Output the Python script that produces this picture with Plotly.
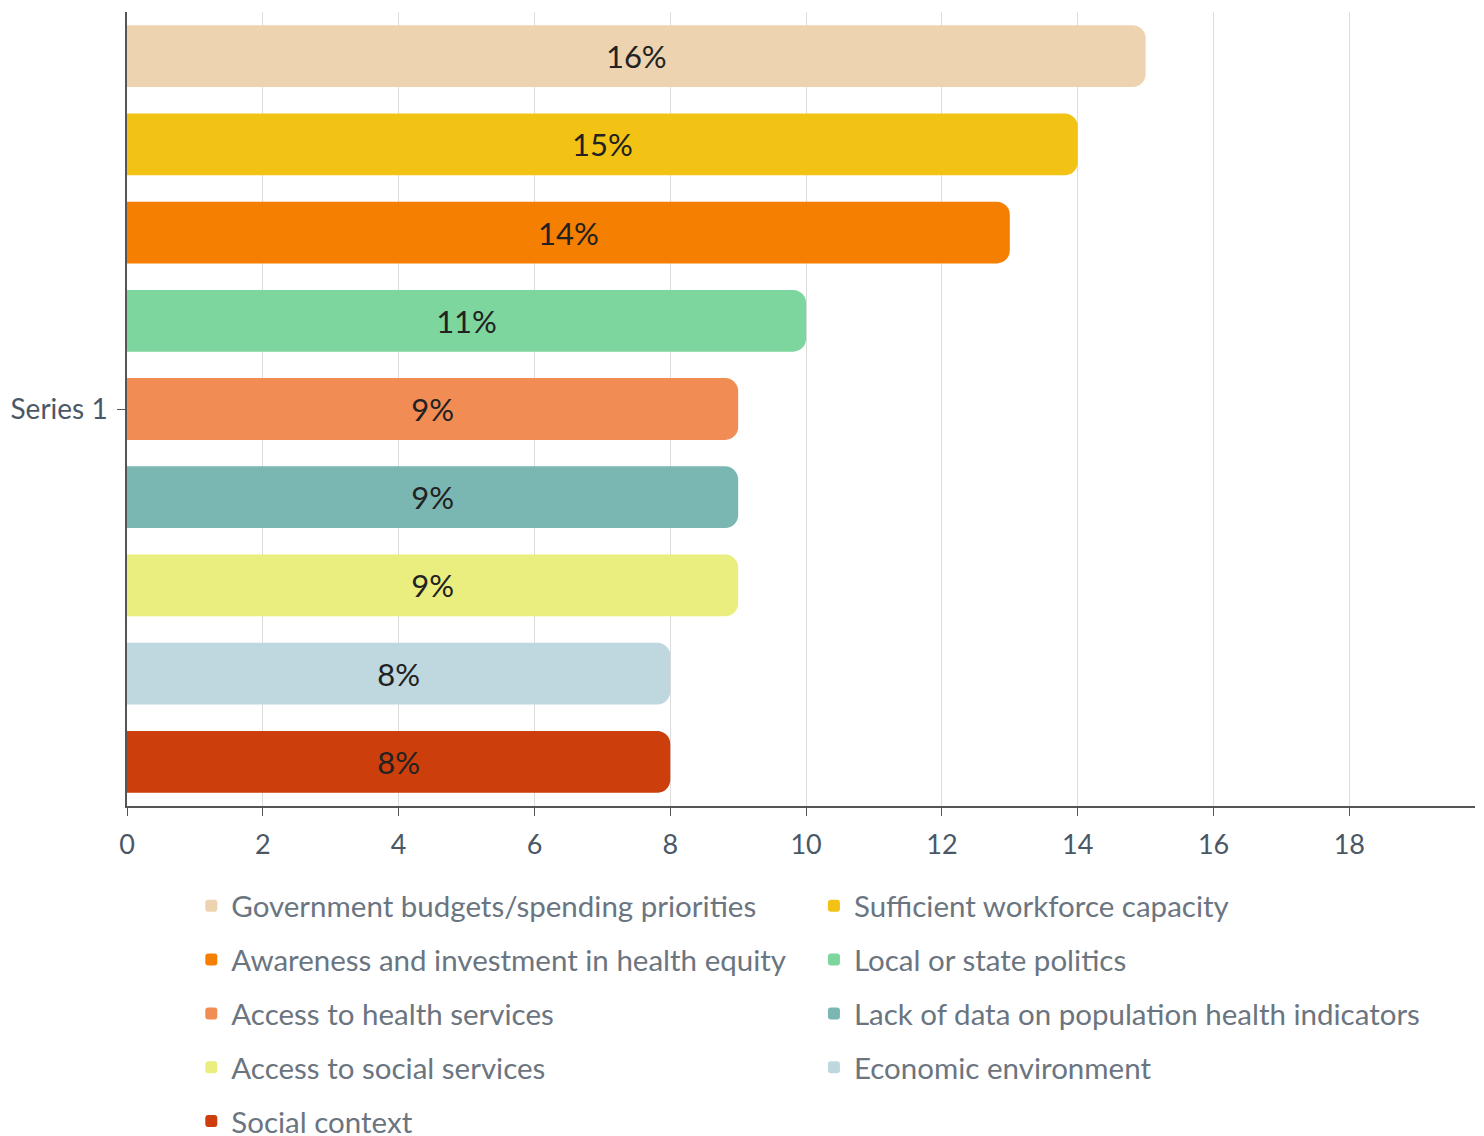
import plotly.graph_objects as go

categories = ["Series 1"]
series_names = [
    "Government budgets/spending priorities",
    "Sufficient workforce capacity",
    "Awareness and investment in health equity",
    "Local or state politics",
    "Access to health services",
    "Lack of data on population health indicators",
    "Access to social services",
    "Economic environment",
    "Social context",
]
values = [15, 14, 13, 10, 9, 9, 9, 8, 8]
labels = ["16%", "15%", "14%", "11%", "9%", "9%", "9%", "8%", "8%"]
colors = ["#EDD3B0", "#F2C314", "#F57F00", "#7DD69D", "#F28C55",
          "#7AB7B2", "#EAEE7E", "#BFD7DF", "#CC3F0C"]

FONT = "Lato, 'Open Sans', sans-serif"

fig = go.Figure()
for i, (name, v, lab, c) in enumerate(zip(series_names, values, labels, colors)):
    fig.add_trace(go.Bar(
        y=categories, x=[v], name=name, orientation="h",
        marker=dict(color=c, line=dict(width=0), cornerradius=13),
        text=[lab], textposition="inside", insidetextanchor="middle",
        textangle=0,
        textfont=dict(family=FONT, size=31, color="#222222"),
        legend="legend" if i % 2 == 0 else "legend2",
        legendgroup=f"g{i}",
        hoverinfo="name+x",
    ))

legend_common = dict(
    orientation="v", y=-0.0932, yanchor="top",
    font=dict(family=FONT, size=29.5, color="#6b7580"),
    traceorder="grouped", tracegroupgap=12.5,
    bgcolor="rgba(0,0,0,0)",
)

fig.update_layout(
    width=1484, height=1136,
    margin=dict(l=119, r=17, t=4, b=338, autoexpand=False),
    paper_bgcolor="white", plot_bgcolor="white",
    barmode="group", bargap=0, bargroupgap=0.3,
    font=dict(family=FONT, color="#4a5866"),
    showlegend=True,
    legend=dict(x=0.0477, xanchor="left", **legend_common),
    legend2=dict(x=0.5096, xanchor="left", **legend_common),
    uniformtext=dict(minsize=10, mode="show"),
)
fig.update_xaxes(
    range=[0, 19.85], dtick=2, tick0=0,
    showgrid=True, gridcolor="#dcdcdc", gridwidth=1,
    showline=True, linecolor="#555555", linewidth=1.5,
    ticks="outside", ticklen=8, tickcolor="#555555",
    tickfont=dict(family=FONT, size=27, color="#4a5866"),
    ticklabelstandoff=6,
    zeroline=False, layer="below traces",
)
fig.update_yaxes(
    autorange="reversed",
    showline=True, linecolor="#555555", linewidth=1.5,
    ticks="outside", ticklen=8, tickcolor="#555555",
    tickfont=dict(family=FONT, size=28, color="#4a5866"),
    ticklabelstandoff=4,
    showgrid=False, layer="below traces",
)

fig.write_html("out.html")
